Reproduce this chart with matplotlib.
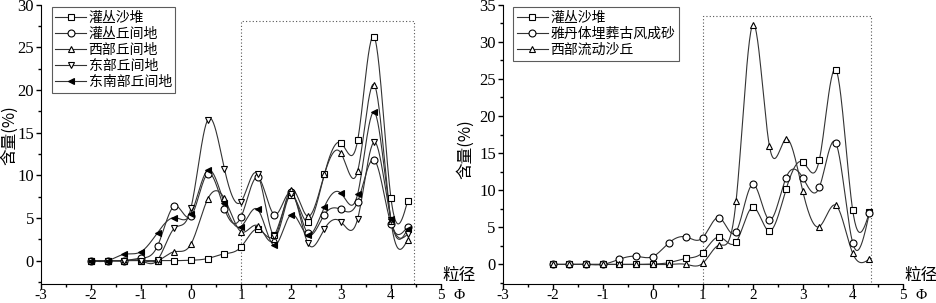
import numpy as np
import matplotlib
matplotlib.use("Agg")
import matplotlib.pyplot as plt
from matplotlib.lines import Line2D
from matplotlib.patches import Rectangle
from matplotlib.ticker import MultipleLocator

plt.rcParams['font.family'] = ['Liberation Serif', 'Noto Sans CJK SC']
plt.rcParams['axes.unicode_minus'] = False

# grain size (phi), one point every 1/3 phi
phi = [-2, -1.667, -1.333, -1, -0.667, -0.333, 0, 0.333, 0.667, 1,
       1.333, 1.667, 2, 2.333, 2.667, 3, 3.333, 3.667, 4, 4.333]

# left panel
shrub_dune = [0, 0, 0, 0, 0, 0, 0.05, 0.25, 0.8, 1.6, 3.7, 3.0, 7.7, 4.5, 10.1, 13.8, 14.1, 26.2, 7.3, 7.0]
shrub_inter = [0, 0, 0, 0.3, 1.75, 6.4, 5.2, 10.2, 6.1, 5.1, 9.8, 5.4, 8.0, 3.2, 5.4, 6.0, 6.9, 11.8, 4.3, 4.0]
west_inter = [0, 0, 0, 0, 0, 1.05, 1.95, 7.2, 7.3, 3.4, 4.1, 2.5, 8.3, 5.2, 10.1, 12.6, 10.5, 20.6, 4.6, 2.45]
east_inter = [0, 0, 0, 0, 0.1, 3.8, 6.2, 16.5, 10.8, 6.9, 10.1, 2.85, 7.8, 2.1, 3.7, 4.55, 4.9, 13.9, 4.8, 3.1]
se_inter = [0, 0, 0.75, 1.05, 3.3, 5.05, 5.5, 10.6, 6.7, 4.0, 6.0, 1.8, 5.4, 3.0, 6.3, 7.9, 7.8, 17.4, 4.9, 3.7]

# right panel
yardang = [0, 0, 0, 0, 0.7, 1.1, 1.05, 2.95, 3.7, 3.6, 6.3, 4.4, 10.8, 6.0, 11.7, 11.7, 10.4, 16.3, 2.9, 6.9]
west_dune = [0, 0, 0, 0, 0, 0, 0, 0, 0, 0.15, 2.6, 8.5, 32.3, 16.0, 16.9, 9.9, 5.1, 7.95, 1.5, 0.7]

left_names = ['灌丛沙堆', '灌丛丘间地', '西部丘间地', '东部丘间地', '东南部丘间地']
right_names = ['灌丛沙堆', '雅丹体埋葬古风成砂', '西部流动沙丘']


def spline(x, y, n=500):
    # natural cubic spline, like Origin's spline connect
    x = np.asarray(x, float)
    y = np.asarray(y, float)
    m = len(x)
    h = np.diff(x)
    A = np.zeros((m, m))
    r = np.zeros(m)
    A[0, 0] = A[-1, -1] = 1
    for i in range(1, m - 1):
        A[i, i - 1] = h[i - 1]
        A[i, i] = 2 * (h[i - 1] + h[i])
        A[i, i + 1] = h[i]
        r[i] = 3 * ((y[i + 1] - y[i]) / h[i] - (y[i] - y[i - 1]) / h[i - 1])
    c = np.linalg.solve(A, r)
    b = (y[1:] - y[:-1]) / h - h * (2 * c[:-1] + c[1:]) / 3
    d = (c[1:] - c[:-1]) / (3 * h)
    xs = np.linspace(x[0], x[-1], n)
    k = np.clip(np.searchsorted(x, xs) - 1, 0, m - 2)
    dx = xs - x[k]
    return xs, y[k] + b[k] * dx + c[k] * dx ** 2 + d[k] * dx ** 3


def draw(ax, series, styles, ymin, ymax, box_top, box_right):
    for vals, (mk, fc) in zip(series, styles):
        xs, ys = spline(phi, vals)
        ax.plot(xs, ys, color='#333333', lw=0.8, zorder=2)
        ax.plot(phi, vals, ls='none', marker=mk, ms=5, mfc=fc, mec='black',
                mew=0.8, zorder=3)
    ax.set_xlim(-3, 5)
    ax.set_ylim(ymin, ymax)
    ax.spines['top'].set_visible(False)
    ax.spines['right'].set_visible(False)
    ax.xaxis.set_major_locator(MultipleLocator(1))
    ax.xaxis.set_minor_locator(MultipleLocator(0.5))
    ax.yaxis.set_major_locator(MultipleLocator(5))
    ax.yaxis.set_minor_locator(MultipleLocator(2.5))
    ax.tick_params(which='major', direction='out', length=3.5, width=1, labelsize=12, pad=1.5)
    ax.tick_params(axis='x', which='major', labelsize=11, pad=0.5)
    ax.tick_params(which='minor', direction='out', length=2, width=1)
    ax.set_yticks(np.arange(0, ymax + 0.1, 5))
    ax.add_patch(Rectangle((1, ymin), box_right - 1, box_top - ymin, fill=False,
                           ls=(0, (1, 2)), lw=0.8, ec='#555555', zorder=1))
    ax.text(5.03, 0.0, '粒径', transform=ax.get_xaxis_transform(),
            ha='left', va='bottom', fontsize=12, family=['Noto Sans CJK SC'])
    ax.text(5.25, -0.018, 'Φ', transform=ax.get_xaxis_transform(),
            ha='left', va='top', fontsize=11)


fig = plt.figure(figsize=(9.36, 3.03), dpi=100)
ax1 = fig.add_axes([41 / 936, 19.3 / 303, 400 / 936, 279 / 303])
ax2 = fig.add_axes([502.7 / 936, 19.3 / 303, 400 / 936, 279 / 303])

left_styles = [('s', 'white'), ('o', 'white'), ('^', 'white'), ('v', 'white'), ('<', 'black')]
right_styles = [('s', 'white'), ('o', 'white'), ('^', 'white')]

draw(ax1, [shrub_dune, shrub_inter, west_inter, east_inter, se_inter],
     left_styles, -2.7, 30, 28.1, 4.45)
draw(ax2, [shrub_dune, yardang, west_dune], right_styles, -2.6, 35, 33.5, 4.37)

for ax, names, styles in [(ax1, left_names, left_styles), (ax2, right_names, right_styles)]:
    handles = [Line2D([], [], color='#333333', lw=0.8, marker=mk, ms=5, mfc=fc,
                      mec='black', mew=0.8) for mk, fc in styles]
    leg = ax.legend(handles, names, loc='upper left', bbox_to_anchor=(0.02, 1.0),
                    frameon=True, fancybox=False, edgecolor='#333333',
                    prop={'family': 'Noto Sans CJK SC', 'size': 10},
                    handlelength=2.2, handletextpad=0.2, labelspacing=0.15,
                    borderpad=0.25, borderaxespad=0.2)
    leg.get_frame().set_linewidth(0.8)

fig.text(9.5 / 936, 1 - 135 / 303, '含量(%)', rotation=90, ha='center', va='center',
         fontsize=12, family=['Noto Sans CJK SC'])
fig.text(465 / 936, 1 - 149 / 303, '含量(%)', rotation=90, ha='center', va='center',
         fontsize=12, family=['Noto Sans CJK SC'])

fig.savefig('out.png', dpi=100)
